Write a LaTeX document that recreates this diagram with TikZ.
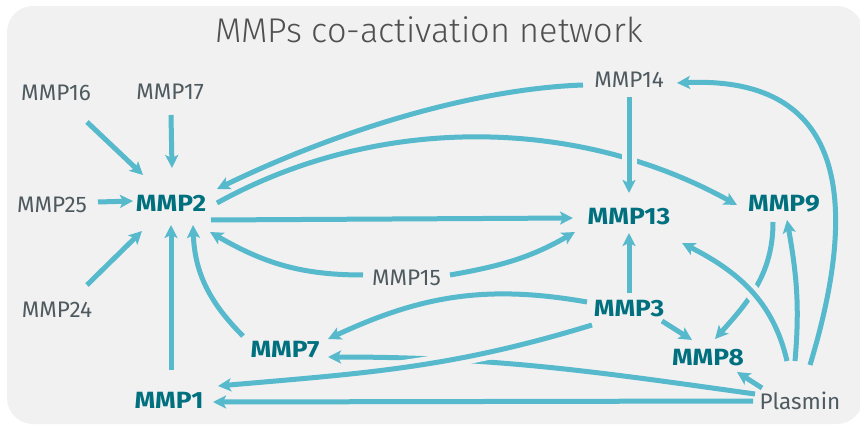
\documentclass[tikz,border=0pt]{standalone}
\usepackage{fontspec}
\setmainfont{Fira Sans}
\newfontfamily\titlefont{Fira Sans Light}
\newfontfamily\hubfont{Fira Sans}[FakeStretch=1.12]
\usetikzlibrary{arrows.meta}
\definecolor{panelbg}{HTML}{F1F1F1}
\definecolor{edgecol}{HTML}{56B9CC}
\definecolor{hubcol}{HTML}{00707E}
\definecolor{labelcol}{HTML}{4E5A5F}
\definecolor{titlecol}{HTML}{505050}
\begin{document}
\begin{tikzpicture}[x=1pt,y=1pt,
  link/.style={draw=edgecol, line width=5pt, -{Stealth[length=13pt,width=13pt,inset=3pt]}},
  halo/.style={preaction={draw=panelbg, line width=15pt, -}},
  minor/.style={font=\fontsize{22.5}{24}\selectfont, text=labelcol, anchor=base, inner sep=0pt},
  hub/.style={font=\hubfont\bfseries\fontsize{23.5}{25}\selectfont, text=hubcol, anchor=base, inner sep=0pt}]
\useasboundingbox (0,0) rectangle (860,424);
\fill[panelbg, rounded corners=26pt] (7,0) rectangle (863,418);

% title
\node[font=\titlefont\fontsize{34.3}{38}\selectfont, text=titlecol, anchor=base] (title) at (429,381) {MMPs co-activation network};

% enzymes
\node[minor] (mmp16) at (56,323) {MMP16};
\node[minor] (mmp17) at (170,324) {MMP17};
\node[minor] (mmp25) at (52,212) {MMP25};
\node[hub] (mmp2) at (171,213) {MMP2};
\node[minor] (mmp24) at (57,107) {MMP24};
\node[minor] (mmp14) at (629,336) {MMP14};
\node[hub] (mmp13) at (629,200) {MMP13};
\node[hub] (mmp9) at (784,213) {MMP9};
\node[minor] (mmp15) at (406.5,139) {MMP15};
\node[hub] (mmp3) at (629,108) {MMP3};
\node[hub] (mmp8) at (708,59) {MMP8};
\node[hub] (mmp7) at (285,67) {MMP7};
\node[hub] (mmp1) at (169,16) {MMP1};
\node[minor] (plasmin) at (800,15) {Plasmin};

% activations of MMP2
\draw[link] ([shift={(31,-21)}]mmp16.base) -- ([shift={(-28,36)}]mmp2.base);
\draw[link] ([shift={(1,-15)}]mmp17.base) -- ([shift={(1,43)}]mmp2.base);
\draw[link] ([shift={(46,10)}]mmp25.base) -- ([shift={(-38,10)}]mmp2.base);
\draw[link] ([shift={(30,32)}]mmp24.base) -- ([shift={(-29,-20)}]mmp2.base);
\draw[link] ([shift={(2,38)}]mmp1.base) -- ([shift={(0,-14)}]mmp2.base);
\draw[link] ([shift={(-42,21)}]mmp7.base) to[out=135,in=-88] ([shift={(22,-14)}]mmp2.base);
\draw[link] ([shift={(-43.5,10)}]mmp15.base) to[out=180,in=-30] ([shift={(39,-21)}]mmp2.base);
\draw[link] ([shift={(-46,3)}]mmp14.base) to[out=182,in=26,looseness=0.8] ([shift={(46,22)}]mmp2.base);

% from MMP2
\draw[link] ([shift={(40,-9)}]mmp2.base) -- ([shift={(-56,6)}]mmp13.base);
\draw[link] ([shift={(46,8)}]mmp2.base) to[out=29,in=151,looseness=0.9] ([shift={(-47,6)}]mmp9.base);

% towards MMP13
\draw[link] ([shift={(43.5,10)}]mmp15.base) to[out=10,in=-150] ([shift={(-54,-8)}]mmp13.base);
\draw[link, halo] ([shift={(0,-9)}]mmp14.base) -- ([shift={(0,31)}]mmp13.base);
\draw[link] ([shift={(0,23)}]mmp3.base) -- ([shift={(0,-9)}]mmp13.base);

% from MMP3 and Plasmin
\draw[link] ([shift={(33,-5)}]mmp3.base) -- ([shift={(-16,25)}]mmp8.base);
\draw[link] ([shift={(-45,15)}]plasmin.base) to[out=172,in=0] ([shift={(43,0)}]mmp7.base);
\draw[link, halo] ([shift={(-37,-9)}]mmp3.base) to[out=197,in=5] ([shift={(49,22)}]mmp1.base);
\draw[link] ([shift={(-42,14)}]mmp3.base) to[out=170,in=25] ([shift={(43,18)}]mmp7.base);
\draw[link] ([shift={(-47,8)}]plasmin.base) -- ([shift={(44,6)}]mmp1.base);
\draw[link] ([shift={(-38,21)}]plasmin.base) -- ([shift={(29,-7)}]mmp8.base);
\draw[link] ([shift={(-11,-11)}]mmp9.base) to[out=-90,in=48] ([shift={(7,26)}]mmp8.base);
\draw[link, halo] ([shift={(-13,48)}]plasmin.base) to[out=103,in=-27] ([shift={(53,-19)}]mmp13.base);
\draw[link] ([shift={(-5,48)}]plasmin.base) to[out=85,in=-80] ([shift={(3,-9)}]mmp9.base);
\draw[link] ([shift={(10,44)}]plasmin.base) .. controls +(55,181) and +(158,7) .. ([shift={(48,5)}]mmp14.base);
\end{tikzpicture}
\end{document}
